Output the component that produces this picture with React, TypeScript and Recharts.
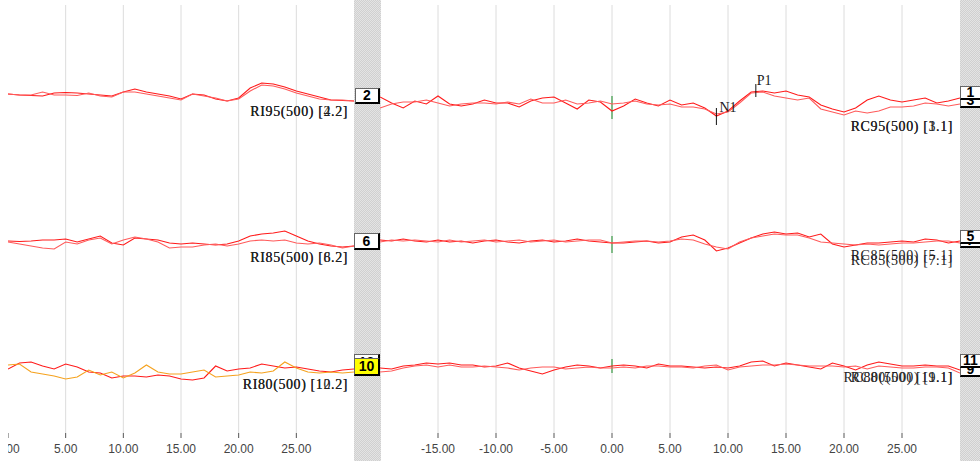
import {
  CartesianGrid,
  Line,
  LineChart,
  ReferenceDot,
  ReferenceLine,
  XAxis,
  YAxis,
} from 'recharts'

// time axis (ms)
const LEFT_MS = [0, 1, 2, 3, 4, 5, 6, 7, 8, 9, 10, 11, 12, 13, 14, 15, 16, 17, 18, 19, 20, 21, 22, 23, 24, 25, 26, 27, 28, 29, 30]
const RIGHT_MS = [
  -20, -19, -18, -17, -16, -15, -14, -13, -12, -11, -10, -9, -8, -7, -6, -5, -4, -3, -2, -1,
  0, 1, 2, 3, 4, 5, 6, 7, 8, 9, 10, 11, 12, 13, 14, 15, 16, 17, 18, 19, 20, 21, 22, 23, 24, 25, 26, 27, 28, 29, 30,
]
const LEFT_TICKS = [0, 5, 10, 15, 20, 25]
const RIGHT_TICKS = [-15, -10, -5, 0, 5, 10, 15, 20, 25]

// left panel traces (amplitude, up = positive)
const RI95_A = [2, 1, 0.5, 0, 3, 3.5, 3, 2, 1, 0, 4, 7, 4, 2, 0, -3, 2, 1, -3, -5, -2, 8, 13, 12, 9, 5, 2, -1, -4, -4.5, -5]
const RI95_B = [2, 1, 1, 4, 1, 1, 0.5, 3, 0, -1, 4, 4, 2, 0, -2, -4, 2, 0, -2, -5, -3, 5, 11, 10, 7, 3, 0, -3, -4, -4, -5]
const RI85_A = [0, -0.5, 0, 1, 1, 2, -1, 2, 5, -2, -4, 3, 2, 1, -2, -3, -2, -3, -4, -3, 0, 5, 7, 8, 10, 5, 0, -3, -5, -6, -5]
const RI85_B = [-1, -3, -5, -7, -8, -1, -3, 1, 3, -3, 1, 4, 2, -1, -7, -6, -6, -4, -3, -5, -3, 0, 1, 0, 1, -2, -3, -2, -4, -7, -5]
const RI80_A = [1, 7, 8, 4, 1, 6, 3, -2, -3, -8, -6, -6, -7, -5, -6, -9, -10, -8, 4, -1, 1, 2, 6, 4, 2, 3, 1, -1, -2, 0, 1]
const RI80_B = [5, 6, -2, -4, -6, -9, -7, 0, -5, -2, -8, -3, 5, -2, -4, -4, -2, 0, -7, -6, -5, -2, -3, -1, 8, 2, -2, -3, -2, -3, -2]

// right panel traces
const RC95_A = [
  6, 0, -5, 2, -1, 7, -1, -3, -1, 3, 0, 0, -4, 2, 5, 6, 0, -6, 3, 1,
  -8, -3, 4, 0, -3, 3, -2, 0, -5, -13, -8, 2, 11, 12, 10, 12, 8, 6, -2, -6, -9, -5, 3, 7, 3, 1, 3, 5, 0, 2, 5,
]
const RC95_B = [
  -5, -1, 1, 1, 3, 0, -3, -1, 0, 0, -1, 1, -1, 4, 0, 0, 3, -1, 0, 2,
  -1, 0, 2, -1, -2, -1, -4, -4, -6, -11, -9, 0, 10, 11, 7, 5, 3, 5, -6, -9, -12, -8, -10, -8, -4, -4, -3, 0, -1, -3, -1,
]
const RC85_A = [
  1, 0, 2, 0, -1, 1, -1, 0, -2, 0, 1, -1, -2, 0, 1, -1, 0, 2, 0, -1,
  -2, -2, -1, 0, -2, -1, 4, 6, 1, -10, -7, -2, 3, 7, 9, 7, 8, 4, 7, -3, -6, -4, -2, -2, -1, 0, -1, 2, 1, -2, 0,
]
const RC85_B = [
  -1, 1, 0, 1, 0, -1, 1, -1, 0, 1, -1, 0, 1, -1, 0, 1, -1, 0, 1, 1,
  -2, -1, 0, 0, -1, 0, 2, 1, -3, -6, -8, -1, 3, 5, 7, 6, 6, 3, -1, -2, -3, -4, -3, -4, -3, -2, -2, -1, 0, 0, -2,
]
const RC80_A = [
  -2, -3, 0, 1, 3, 2, 3, 1, 1, -1, 0, 3, -2, -5, -8, -4, -1, 1, 0, -2,
  0, 1, 0, -2, 2, 0, 0, -1, -2, -1, -2, 0, 4, 5, 0, 3, 1, -1, -3, 3, 0, -4, 1, 4, 2, 0, 0, 1, 0, 0, -4,
]
const RC80_B = [
  -6, -5, -2, 0, 1, -1, 1, -1, -1, 0, -1, -2, -4, -2, -1, -1, -3, -2, -1, -2,
  -2, -1, -2, 0, 0, -1, -1, -2, 0, 1, -4, -1, 0, 1, 1, 2, 1, 0, 0, 0, -1, 0, -3, 0, -1, -2, -2, -1, -1, -2, -7,
]

const N1_MS = 9.0
const P1_MS = 12.4

// layout
const PLOT_H = 428
const GRID_Y = [29, 86, 143, 200, 257, 314, 371, 428]
const LEFT_BASE = [337, 192, 63]
const RIGHT_BASE = [330, 192, 67]
const GREEN = [[7, -16], [5, -12], [7, -7]]

const RED = '#ff1a1a'
const RED2 = '#ff5a5a'
const ORANGE = '#f5a21e'
const sans = 'Arial, "Liberation Sans", sans-serif'
const serif = '"Liberation Serif", "Times New Roman", serif'

const leftData = LEFT_MS.map((t, i) => ({
  t,
  a1: LEFT_BASE[0] + RI95_A[i],
  b1: LEFT_BASE[0] + RI95_B[i],
  a2: LEFT_BASE[1] + RI85_A[i],
  b2: LEFT_BASE[1] + RI85_B[i],
  a3: LEFT_BASE[2] + RI80_A[i],
  b3: LEFT_BASE[2] + RI80_B[i],
}))

const rightData = RIGHT_MS.map((t, i) => ({
  t,
  a1: RIGHT_BASE[0] + RC95_A[i],
  b1: RIGHT_BASE[0] + RC95_B[i],
  a2: RIGHT_BASE[1] + RC85_A[i],
  b2: RIGHT_BASE[1] + RC85_B[i],
  a3: RIGHT_BASE[2] + RC80_A[i],
  b3: RIGHT_BASE[2] + RC80_B[i],
}))

function axes(domain: number[], ticks: number[]) {
  return [
    <XAxis
      key="xb"
      dataKey="t"
      type="number"
      domain={domain}
      ticks={ticks}
      interval={0}
      allowDataOverflow
      tickFormatter={(v: number) => v.toFixed(2)}
      tickSize={5}
      tickMargin={6}
      axisLine={false}
      tickLine={{ stroke: '#555' }}
      tick={{ fill: '#444', fontSize: 12, fontFamily: sans }}
      height={30}
    />,
    <XAxis
      key="xt"
      xAxisId="top"
      orientation="top"
      dataKey="t"
      type="number"
      domain={domain}
      ticks={ticks}
      interval={0}
      height={0}
      tick={false}
      tickSize={3}
      axisLine={false}
      tickLine={{ stroke: '#333' }}
    />,
    <YAxis
      key="yr"
      orientation="right"
      mirror
      type="number"
      domain={[0, PLOT_H]}
      ticks={GRID_Y}
      interval={0}
      allowDataOverflow
      width={0}
      tick={false}
      tickSize={4}
      axisLine={false}
      tickLine={{ stroke: '#333' }}
    />,
  ]
}

function traces(colors: string[][]) {
  return ['1', '2', '3'].flatMap((r, i) => [
    <Line key={'a' + r} dataKey={'a' + r} stroke={colors[i][0]} strokeWidth={1.1} dot={false} isAnimationActive={false} />,
    <Line key={'b' + r} dataKey={'b' + r} stroke={colors[i][1]} strokeWidth={1.1} dot={false} isAnimationActive={false} />,
  ])
}

function TraceLabel({ text, right, cy }: { text: string; right: number; cy: number }) {
  return (
    <div
      style={{
        position: 'absolute',
        right: 980 - right,
        top: cy - 9,
        font: `14px ${serif}`,
        letterSpacing: 0.6,
        lineHeight: '18px',
        color: '#222',
        whiteSpace: 'nowrap',
      }}
    >
      {text}
    </div>
  )
}

function NumBox({ n, x, y, w, h, bg }: { n: string; x: number; y: number; w: number; h: number; bg?: string }) {
  return (
    <div
      style={{
        position: 'absolute',
        left: x,
        top: y,
        width: w,
        height: h,
        boxSizing: 'border-box',
        background: bg ?? '#fff',
        border: '1px solid #666',
        borderRight: '2px solid #000',
        borderBottom: '2px solid #000',
        font: `bold 14px ${sans}`,
        lineHeight: `${h - 3}px`,
        textAlign: 'center',
        color: '#000',
      }}
    >
      {n}
    </div>
  )
}

const hatch = {
  position: 'absolute' as const,
  top: 0,
  height: 461,
  background: 'repeating-conic-gradient(#d0d0d0 0% 25%, #e4e4e4 0% 50%) 0 0 / 2px 2px',
}

export default function App() {
  return (
    <div style={{ position: 'absolute', left: 0, top: 0, width: 980, height: 466, overflow: 'hidden', background: '#fff' }}>
      <div style={{ ...hatch, left: 354, width: 27 }} />
      <div style={{ ...hatch, left: 960, width: 20 }} />

      <div style={{ position: 'absolute', left: 8, top: 0 }}>
        <LineChart width={346} height={466} data={leftData} margin={{ top: 5, right: 0, bottom: 3, left: 0 }}>
          <CartesianGrid stroke="#dcdcdc" verticalValues={[5, 10, 15, 20, 25]} horizontalValues={GRID_Y} />
          {axes([0, 30], LEFT_TICKS)}
          {traces([[RED, RED2], [RED, RED2], [RED, ORANGE]])}
        </LineChart>
      </div>

      <div style={{ position: 'absolute', left: 380, top: 0 }}>
        <LineChart width={580} height={466} data={rightData} margin={{ top: 5, right: 0, bottom: 3, left: 0 }}>
          <CartesianGrid stroke="#dcdcdc" verticalValues={RIGHT_TICKS} horizontalValues={GRID_Y} />
          {axes([-20, 30], RIGHT_TICKS)}
          <YAxis
            yAxisId="left"
            orientation="left"
            mirror
            type="number"
            domain={[0, PLOT_H]}
            ticks={GRID_Y}
            interval={0}
            width={0}
            tick={false}
            tickSize={3}
            axisLine={false}
            tickLine={{ stroke: '#333' }}
          />
          {RIGHT_BASE.map((b, i) => (
            <ReferenceLine
              key={'g' + i}
              segment={[{ x: 0, y: b + GREEN[i][0] }, { x: 0, y: b + GREEN[i][1] }]}
              stroke="#3a9a45"
              strokeWidth={1.2}
            />
          ))}
          {traces([[RED, RED2], [RED, RED2], [RED, RED2]])}
          <ReferenceLine segment={[{ x: N1_MS, y: RIGHT_BASE[0] - 5 }, { x: N1_MS, y: RIGHT_BASE[0] - 22 }]} stroke="#111" />
          <ReferenceLine segment={[{ x: P1_MS, y: RIGHT_BASE[0] + 19 }, { x: P1_MS, y: RIGHT_BASE[0] + 6 }]} stroke="#111" />
          <ReferenceDot
            x={N1_MS}
            y={RIGHT_BASE[0] - 4}
            r={0}
            fill="none"
            stroke="none"
            label={{ value: 'N1', position: 'right', offset: 3, fill: '#222', fontSize: 14, fontFamily: serif }}
          />
          <ReferenceDot
            x={P1_MS}
            y={RIGHT_BASE[0] + 23}
            r={0}
            fill="none"
            stroke="none"
            label={{ value: 'P1', position: 'right', offset: 1, fill: '#222', fontSize: 14, fontFamily: serif }}
          />
        </LineChart>
      </div>

      <TraceLabel text="RI95(500) [2.2]" right={348} cy={112} />
      <TraceLabel text="RI95(500) [4.2]" right={348} cy={112} />
      <TraceLabel text="RI85(500) [6.2]" right={348} cy={258} />
      <TraceLabel text="RI85(500) [8.2]" right={348} cy={258} />
      <TraceLabel text="RI80(500) [10.2]" right={348} cy={385} />
      <TraceLabel text="RI80(500) [12.2]" right={348} cy={385} />
      <TraceLabel text="RC95(500) [1.1]" right={953} cy={127} />
      <TraceLabel text="RC95(500) [3.1]" right={953} cy={127} />
      <TraceLabel text="RC85(500) [5.1]" right={953} cy={256} />
      <TraceLabel text="RC85(500) [7.1]" right={953} cy={261} />
      <TraceLabel text="RC80(500) [9.1]" right={953} cy={378} />
      <TraceLabel text="RC80(500) [11.1]" right={953} cy={378} />

      <NumBox n="2" x={355} y={88} w={25} h={16} />
      <NumBox n="6" x={354} y={233} w={26} h={17} />
      <NumBox n="12" x={354} y={354} w={26} h={17} />
      <NumBox n="10" x={354} y={358} w={26} h={18} bg="#ffff00" />
      <NumBox n="3" x={960} y={94} w={22} h={14} />
      <NumBox n="1" x={960} y={86} w={22} h={14} />
      <NumBox n="7" x={960} y={234} w={22} h={14} />
      <NumBox n="5" x={960} y={230} w={22} h={14} />
      <NumBox n="9" x={960} y={363} w={22} h={14} />
      <NumBox n="11" x={960} y={354} w={22} h={14} />
    </div>
  )
}
